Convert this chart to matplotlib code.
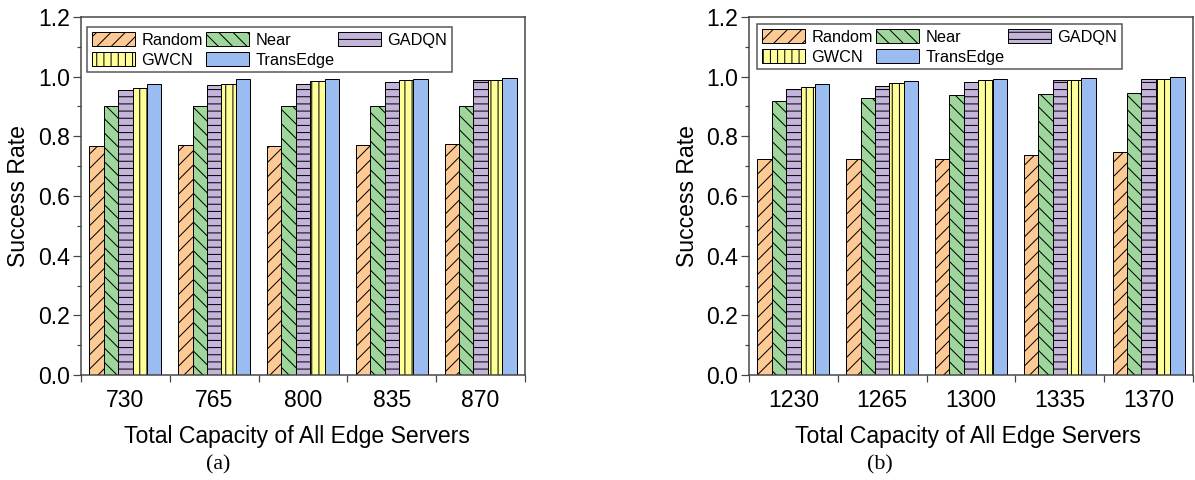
import matplotlib
matplotlib.use("Agg")
import matplotlib.pyplot as plt
import numpy as np
from matplotlib.ticker import FixedLocator

DPI = 86
W, H = 1195, 480


def pt(px):
    return px * 72.0 / DPI


plt.rcParams['font.family'] = ['Liberation Sans', 'DejaVu Sans']
plt.rcParams['hatch.linewidth'] = pt(1.0)

methods = ["Random", "Near", "GADQN", "GWCN", "TransEdge"]
colors = ["#FDC994", "#9ED69C", "#C4B4DA", "#FFFF9A", "#9BBCF0"]
hatches = ["//", "\\\\", "--", "||", ""]

cap_a = ["730", "765", "800", "835", "870"]
random_a = [0.768, 0.771, 0.768, 0.771, 0.773]
near_a = [0.902, 0.903, 0.903, 0.903, 0.902]
gadqn_a = [0.954, 0.971, 0.977, 0.983, 0.989]
gwcn_a = [0.963, 0.975, 0.984, 0.990, 0.990]
transedge_a = [0.975, 0.991, 0.993, 0.993, 0.994]

cap_b = ["1230", "1265", "1300", "1335", "1370"]
random_b = [0.724, 0.723, 0.724, 0.737, 0.748]
near_b = [0.920, 0.927, 0.939, 0.943, 0.945]
gadqn_b = [0.957, 0.970, 0.982, 0.988, 0.991]
gwcn_b = [0.964, 0.979, 0.988, 0.988, 0.991]
transedge_b = [0.974, 0.986, 0.993, 0.994, 0.999]

yticks = [0.0, 0.2, 0.4, 0.6, 0.8, 1.0, 1.2]

# (categories, series, axes left px, axes right px, caption, caption x, xlabel x, legend left px, legend top px)
panels = [
    (cap_a, [random_a, near_a, gadqn_a, gwcn_a, transedge_a], 81, 525, "(a)", 218, 297, 87, 27),
    (cap_b, [random_b, near_b, gadqn_b, gwcn_b, transedge_b], 749, 1193, "(b)", 880, 968, 757, 24),
]

fig = plt.figure(figsize=(W / DPI, H / DPI), dpi=DPI)
top_px, bot_px = 17, 375
bw = 0.162
spine_col = "#444444"
legend_order = [0, 3, 1, 4, 2]

for cats, series, lpx, rpx, cap, capx, xlx, legx, legy in panels:
    ax = fig.add_axes([lpx / W, 1 - bot_px / H, (rpx - lpx) / W, (bot_px - top_px) / H])
    x = np.arange(len(cats))
    bars = []
    for i, (vals, m, c, h) in enumerate(zip(series, methods, colors, hatches)):
        b = ax.bar(x + (i - 2) * bw, vals, bw, color=c, edgecolor="black",
                   linewidth=pt(1.0), hatch=h, label=m, zorder=2)
        bars.append(b)
    ax.set_xlim(-0.5, len(cats) - 0.5)
    ax.set_ylim(0, 1.2)
    ax.set_yticks(yticks)
    ax.set_yticklabels([f"{v:.1f}" for v in yticks])
    ax.yaxis.set_minor_locator(FixedLocator([0.1, 0.3, 0.5, 0.7, 0.9, 1.1]))
    ax.set_xticks(x)
    ax.set_xticklabels(cats)
    ax.xaxis.set_minor_locator(FixedLocator(np.arange(-0.5, len(cats), 1.0)))
    ax.tick_params(axis="x", which="major", length=0, pad=pt(14), labelsize=pt(23))
    ax.tick_params(axis="x", which="minor", length=pt(7), width=pt(1.2), direction="out",
                   color=spine_col)
    ax.tick_params(axis="y", which="major", length=pt(8), width=pt(1.2), pad=pt(3),
                   labelsize=pt(23), color=spine_col)
    ax.tick_params(axis="y", which="minor", length=pt(4), width=pt(1.2), color=spine_col)
    for s in ax.spines.values():
        s.set_color(spine_col)
        s.set_linewidth(pt(1.5))

    handles = [bars[k] for k in legend_order]
    labels = [methods[k] for k in legend_order]
    leg = ax.legend(handles, labels, ncol=3, loc="upper left",
                    bbox_to_anchor=((legx - lpx) / (rpx - lpx),
                                    (bot_px - legy) / (bot_px - top_px)),
                    fontsize=pt(16.2), handlelength=2.65, handleheight=1.0,
                    handletextpad=0.4, columnspacing=0.2, labelspacing=0.25,
                    borderpad=0.3, borderaxespad=0, fancybox=False, framealpha=1,
                    edgecolor="#555555")
    leg.get_frame().set_linewidth(pt(1.5))

    fig.text((lpx - 62) / W, 1 - 196 / H, "Success Rate", rotation=90,
             ha="center", va="center", fontsize=pt(23))
    fig.text(xlx / W, 1 - 437 / H, "Total Capacity of All Edge Servers",
             ha="center", va="center", fontsize=pt(23))
    fig.text(capx / W, 1 - 465 / H, cap, ha="center", va="center",
             fontsize=pt(22), family=["Liberation Serif", "DejaVu Serif"])

fig.savefig("out.png", dpi=DPI)
